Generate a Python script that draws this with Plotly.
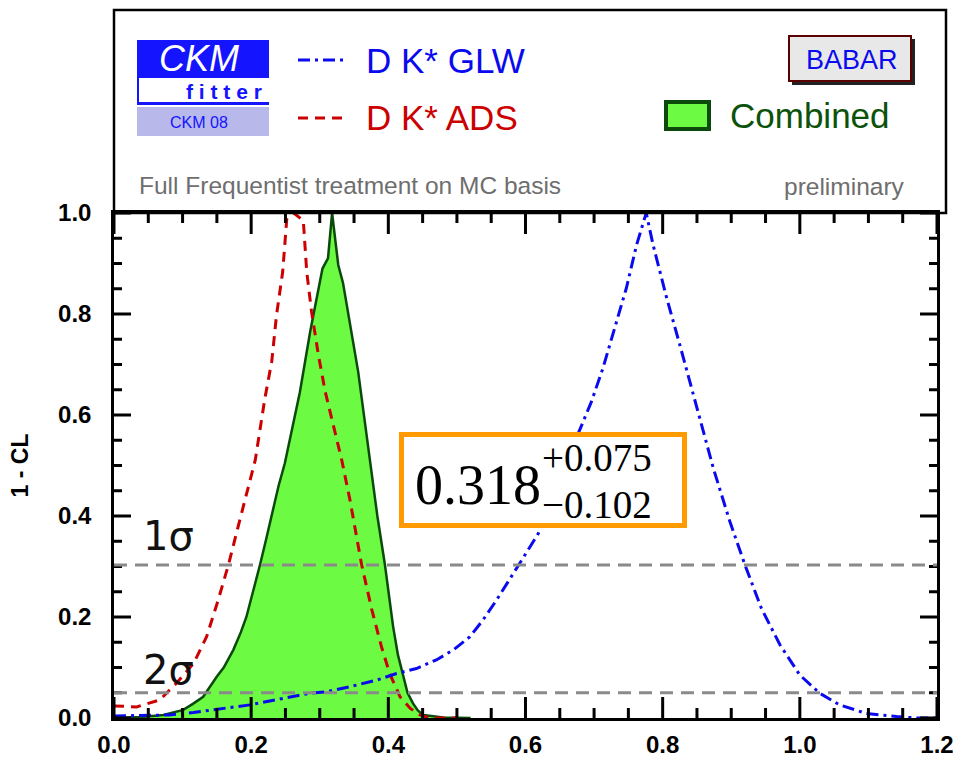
import plotly.graph_objects as go

# ---- data -------------------------------------------------------------
# combined likelihood scan (1 - CL) versus the parameter value
comb_x = [0.0, 0.04, 0.072, 0.101, 0.115, 0.130, 0.150, 0.160, 0.174, 0.185, 0.193,
          0.203, 0.213, 0.222, 0.232, 0.240, 0.249, 0.262, 0.271, 0.286, 0.304, 0.312,
          0.318, 0.327, 0.334, 0.356, 0.373, 0.384, 0.395, 0.401, 0.407, 0.414, 0.422,
          0.428, 0.436, 0.443, 0.451, 0.480, 0.520]
comb_y = [0.0, 0.002, 0.006, 0.016, 0.028, 0.042, 0.082, 0.100, 0.135, 0.170, 0.200,
          0.250, 0.304, 0.355, 0.412, 0.460, 0.504, 0.585, 0.645, 0.765, 0.890, 0.910,
          1.000, 0.897, 0.861, 0.686, 0.511, 0.400, 0.304, 0.240, 0.181, 0.125, 0.082,
          0.050, 0.029, 0.015, 0.006, 0.001, 0.0]

# D K* ADS scan
ads_x = [0.0, 0.033, 0.067, 0.091, 0.116, 0.135, 0.152, 0.167, 0.181, 0.193, 0.206,
         0.220, 0.230, 0.237, 0.246, 0.252, 0.262, 0.276, 0.281, 0.288, 0.298, 0.308,
         0.320, 0.332, 0.344, 0.361, 0.376, 0.390, 0.402, 0.417, 0.432, 0.446, 0.460, 0.500]
ads_y = [0.024, 0.022, 0.036, 0.069, 0.108, 0.161, 0.234, 0.304, 0.379, 0.445, 0.511,
         0.633, 0.706, 0.798, 0.884, 0.990, 1.000, 0.985, 0.884, 0.805, 0.719, 0.646,
         0.580, 0.511, 0.432, 0.304, 0.214, 0.141, 0.088, 0.042, 0.019, 0.006, 0.0, 0.0]

# D K* GLW scan
glw_x = [0.0, 0.080, 0.116, 0.150, 0.198, 0.247, 0.271, 0.286, 0.310, 0.344, 0.383,
         0.412, 0.441, 0.470, 0.495, 0.519, 0.538, 0.558, 0.590, 0.619, 0.640, 0.660,
         0.682, 0.696, 0.713, 0.728, 0.747, 0.762, 0.776, 0.786, 0.806, 0.825, 0.845,
         0.854, 0.874, 0.898, 0.920, 0.944, 0.971, 1.000, 1.029, 1.058, 1.097, 1.141,
         1.170, 1.200]
glw_y = [0.004, 0.006, 0.011, 0.017, 0.026, 0.039, 0.046, 0.049, 0.052, 0.062, 0.075,
         0.088, 0.098, 0.115, 0.135, 0.161, 0.194, 0.234, 0.303, 0.366, 0.440, 0.510,
         0.580, 0.626, 0.693, 0.765, 0.851, 0.937, 1.000, 0.937, 0.831, 0.739, 0.640,
         0.593, 0.494, 0.389, 0.303, 0.217, 0.145, 0.085, 0.049, 0.026, 0.009, 0.003,
         0.0, 0.0]

# confidence-level reference lines
sigma_labels = ["1σ", "2σ"]
sigma_levels = [0.303, 0.05]

central_value = "0.318"
err_plus = "+0.075"
err_minus = "\u22120.102"

# axis tick positions (major every 0.2, minor every 0.05)
x_major = [0.0, 0.2, 0.4, 0.6, 0.8, 1.0, 1.2]
y_major = [0.0, 0.2, 0.4, 0.6, 0.8, 1.0]
x_minor = [round(0.05 * i, 2) for i in range(25) if i % 4]
y_minor = [round(0.05 * i, 2) for i in range(21) if i % 4]

X_RANGE = (0.0, 1.2)
Y_RANGE = (0.0, 1.0)

# ---- colours ----------------------------------------------------------
C_GLW = "#0a0aee"
C_ADS = "#cc0000"
C_FILL = "#6cfa42"
C_EDGE = "#0b4a0b"
C_GREY = "#8a8a8a"
C_ORANGE = "#ff9a00"
C_TICK = "black"

# ---- plot-area geometry (pixels) used to place header items ---------
W, H = 953, 759
PL, PR, PT, PB = 114, 937, 213, 718


def dx(px):
    return (px - PL) / (PR - PL)


def dy(py):
    return (PB - py) / (PB - PT)


def note(px, py, text, size, color, family="Liberation Sans", xa="left", ya="middle", **kw):
    return dict(xref="x domain", yref="y domain", x=dx(px), y=dy(py), xanchor=xa,
                yanchor=ya, showarrow=False, text=text,
                font=dict(family=family, size=size, color=color), **kw)


fig = go.Figure()

fig.add_trace(go.Scatter(
    x=comb_x, y=comb_y, mode="lines", fill="tozeroy", fillcolor=C_FILL,
    line=dict(color=C_EDGE, width=2.5), hoverinfo="skip", showlegend=False))
fig.add_trace(go.Scatter(
    x=ads_x, y=ads_y, mode="lines",
    line=dict(color=C_ADS, width=3, dash="10px,7px"), showlegend=False))
fig.add_trace(go.Scatter(
    x=glw_x, y=glw_y, mode="lines",
    line=dict(color=C_GLW, width=3, dash="12px,5px,3px,5px"), showlegend=False))

# tick marks on all four sides of the frame, one small trace per tick
y_per_px = (Y_RANGE[1] - Y_RANGE[0]) / (PB - PT)
x_per_px = (X_RANGE[1] - X_RANGE[0]) / (PR - PL)
for xs, ln in ((x_major, 21), (x_minor, 10)):
    for v in xs:
        for y0, y1 in ((Y_RANGE[0], Y_RANGE[0] + ln * y_per_px),
                       (Y_RANGE[1] - ln * y_per_px, Y_RANGE[1])):
            fig.add_trace(go.Scatter(x=[v, v], y=[y0, y1], mode="lines",
                                     line=dict(color=C_TICK, width=3),
                                     hoverinfo="skip", showlegend=False))
for ys, ln in ((y_major, 17), (y_minor, 8)):
    for v in ys:
        for x0, x1 in ((X_RANGE[0], X_RANGE[0] + ln * x_per_px),
                       (X_RANGE[1] - ln * x_per_px, X_RANGE[1])):
            fig.add_trace(go.Scatter(x=[x0, x1], y=[v, v], mode="lines",
                                     line=dict(color=C_TICK, width=3),
                                     hoverinfo="skip", showlegend=False))

shapes = []
annotations = []

# sigma lines and labels
for lab, lev, tyy in zip(sigma_labels, sigma_levels, [536, 670]):
    shapes.append(dict(type="line", xref="x", yref="y", x0=0.0, x1=1.2, y0=lev, y1=lev,
                       line=dict(color=C_GREY, width=3, dash="13px,8px"), layer="above"))
    annotations.append(note(141, tyy, lab, 40, "#111111", family="DejaVu Sans"))

# result box
shapes.append(dict(type="rect", xref="x domain", yref="y domain",
                   x0=dx(401.5), x1=dx(684.5), y0=dy(525.5), y1=dy(434.5),
                   fillcolor="white", line=dict(color=C_ORANGE, width=5), layer="above"))
serif = "Liberation Serif"
annotations.append(note(543, 485, central_value, 56, "black", family=serif, xa="right"))
annotations.append(note(541, 457, err_plus, 39, "black", family=serif, borderpad=0))
annotations.append(note(541, 504, err_minus, 39, "black", family=serif, borderpad=0))

# ---- header panel -----------------------------------------------------
shapes.append(dict(type="rect", xref="x domain", yref="y domain",
                   x0=0, x1=dx(946), y0=1, y1=dy(10),
                   line=dict(color="black", width=2.5), fillcolor="rgba(0,0,0,0)"))

# CKMfitter logo
shapes.append(dict(type="rect", xref="x domain", yref="y domain",
                   x0=dx(137), x1=dx(269), y0=dy(78), y1=dy(40),
                   fillcolor="#1414ff", line=dict(width=0)))
shapes.append(dict(type="line", xref="x domain", yref="y domain",
                   x0=dx(138), x1=dx(138), y0=dy(78), y1=dy(104),
                   line=dict(color="#1414ff", width=2)))
shapes.append(dict(type="line", xref="x domain", yref="y domain",
                   x0=dx(137), x1=dx(269), y0=dy(103.5), y1=dy(103.5),
                   line=dict(color="#1414ff", width=3)))
shapes.append(dict(type="rect", xref="x domain", yref="y domain",
                   x0=dx(137), x1=dx(269), y0=dy(136), y1=dy(107),
                   fillcolor="#b8b8ea", line=dict(width=0)))
annotations.append(note(199, 59, "<i>CKM</i>", 36, "white", xa="center"))
annotations.append(note(264, 91, "<b>f i t t e r</b>", 21, "#1414ff", xa="right"))
annotations.append(note(199, 122, "CKM 08", 16, "#1414ff", xa="center"))

# legend samples
shapes.append(dict(type="line", xref="x domain", yref="y domain",
                   x0=dx(298), x1=dx(348), y0=dy(60), y1=dy(60),
                   line=dict(color=C_GLW, width=3, dash="12px,5px,3px,5px")))
shapes.append(dict(type="line", xref="x domain", yref="y domain",
                   x0=dx(298), x1=dx(348), y0=dy(118), y1=dy(118),
                   line=dict(color=C_ADS, width=3, dash="10px,7px")))
annotations.append(note(364, 61, "D K* GLW", 35, C_GLW))
annotations.append(note(364, 117, "D K* ADS", 35, C_ADS))

shapes.append(dict(type="rect", xref="x domain", yref="y domain",
                   x0=dx(666), x1=dx(709), y0=dy(129), y1=dy(102),
                   fillcolor=C_FILL, line=dict(color=C_EDGE, width=4)))
annotations.append(note(728, 115, "Combined", 35, "#0b520b"))

# BABAR badge
shapes.append(dict(type="rect", xref="x domain", yref="y domain",
                   x0=dx(792), x1=dx(915), y0=dy(85), y1=dy(39),
                   fillcolor="#222222", line=dict(width=0)))
shapes.append(dict(type="rect", xref="x domain", yref="y domain",
                   x0=dx(789), x1=dx(911), y0=dy(81), y1=dy(36),
                   fillcolor="#e8e8e8", line=dict(color="#5a0000", width=2)))
annotations.append(note(852, 60, "BABAR", 27, C_GLW, xa="center"))

annotations.append(note(137, 186, "Full Frequentist treatment on MC basis", 24.5, "#6e6e6e"))
annotations.append(note(907, 187, "preliminary", 24.5, "#6e6e6e", xa="right"))

axis_common = dict(
    showline=True, linecolor="black", linewidth=2.5, mirror=True,
    ticks="inside", ticklen=1, tickcolor="rgba(0,0,0,0)",
    showgrid=False, zeroline=False, automargin=False, ticklabeloverflow="allow",
    tickfont=dict(family="Liberation Sans", size=24, color="black", weight="bold"),
)

fig.update_xaxes(range=list(X_RANGE), tickmode="array", tickvals=x_major,
                 ticktext=[f"{v:.1f}" for v in x_major], ticklabelstandoff=3,
                 **axis_common)
fig.update_yaxes(range=list(Y_RANGE), tickmode="array", tickvals=y_major,
                 ticktext=[f"{v:.1f}" for v in y_major], ticklabelstandoff=15,
                 title=dict(text="1 - CL", standoff=24,
                            font=dict(family="Liberation Sans", size=23, color="black",
                                      weight="bold")),
                 **axis_common)

fig.update_layout(
    width=W, height=H,
    margin=dict(l=PL, r=W - PR, t=PT, b=H - PB, pad=0),
    paper_bgcolor="white", plot_bgcolor="white",
    shapes=shapes, annotations=annotations, showlegend=False,
)

fig.write_html("out.html")
